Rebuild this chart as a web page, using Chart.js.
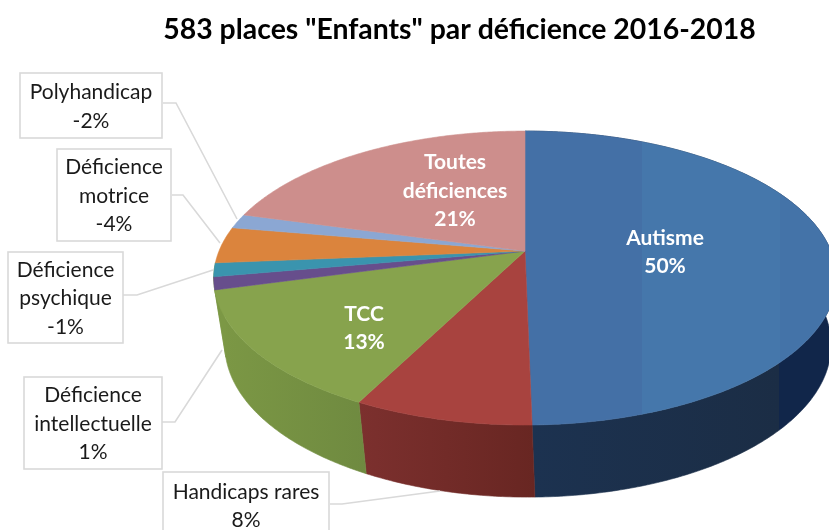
<!DOCTYPE html>
<html>
<head>
<meta charset="utf-8">
<script src="https://cdn.jsdelivr.net/npm/chart.js@4/dist/chart.umd.min.js"></script>
<style>
  html, body { margin: 0; padding: 0; background: #fff; }
  canvas { display: block; }
</style>
</head>
<body>
<canvas id="chart1" width="829" height="530"></canvas>
<script>
var titleText = '583 places "Enfants" par déficience 2016-2018';
var categories = ['Autisme', 'Handicaps rares', 'TCC', 'Déficience intellectuelle', 'Déficience psychique', 'Déficience motrice', 'Polyhandicap', 'Toutes déficiences'];
var shares = [49.7, 7.8, 13.3, 1.4, 1.5, 4.0, 1.6, 20.7];
var shareLabels = ['50%', '8%', '13%', '1%', '-1%', '-4%', '-2%', '21%'];

// how each category name wraps in its label
var labelLines = [['Autisme'], ['Handicaps rares'], ['TCC'], ['Déficience', 'intellectuelle'], ['Déficience', 'psychique'], ['Déficience', 'motrice'], ['Polyhandicap'], ['Toutes', 'déficiences']];

var topColors = ['#4472a8', '#a8433f', '#87a34d', '#674e8c', '#3a94ae', '#db843d', '#8ba7d3', '#cd8e8c'];
// the small slices sit on the silhouette and the back slices have no visible wall
var sideColors = [['#1c3250', '#1b2d45'], ['#7c302e', '#682622'], ['#7c9845', '#6f8a40'], ['#7c9845', '#7c9845'], ['#7c9845', '#7c9845'], null, null, null];

// label boxes: x, y, w, h (null = white text sitting on the pie, x,y is its centre)
var labelBoxes = [null, [163, 472, 166, 66], null, [24, 377, 138, 92], [8, 252, 115, 91], [57, 149, 114, 92], [20, 73, 142, 65], null];
var innerSpots = [[665, 251], null, [364, 327], null, null, null, null, [455, 190]];
var leaders = [null, [[330, 504], [342, 504], [440, 491]], null, [[162, 422], [175, 422], [222, 350]], [[123, 295], [137, 295], [213, 270]], [[172, 195], [183, 195], [220, 243]], [[163, 103], [176, 103], [237, 219]], null];

// the tilted disc, in px: half axes of the top face and of the base
var persp = 0.1837;
var topFace = { dx: 0, dy: 0, rx: 306, ry: 142 };
var baseFace = { dx: 3, dy: 66, rx: 298, ry: 147 };

function project(arc, a, face) {
  var w = 1 - persp * Math.sin(a);
  return {
    x: arc.x + face.dx + face.rx * Math.cos(a) / w,
    y: arc.y + face.dy + face.ry * Math.sin(a) / w
  };
}

function rimPoints(arc, face, reverse) {
  var pts = [];
  var steps = Math.max(2, Math.ceil((arc.endAngle - arc.startAngle) / 0.01));
  for (var i = 0; i <= steps; i++) {
    var t = reverse ? steps - i : i;
    pts.push(project(arc, arc.startAngle + (arc.endAngle - arc.startAngle) * t / steps, face));
  }
  return pts;
}

function fillPath(ctx, pts, color) {
  ctx.beginPath();
  pts.forEach((p, i) => {
    if (i == 0) ctx.moveTo(p.x, p.y); else ctx.lineTo(p.x, p.y);
  });
  ctx.closePath();
  ctx.fillStyle = color;
  ctx.strokeStyle = color;
  ctx.lineWidth = 0.6;
  ctx.fill();
  ctx.stroke();
}

var pie3d = {
  id: 'pie3d',
  afterLayout: function (chart) {
    // the title is centred over the slide, not over the pie
    chart.titleBlock.left = 90;
    chart.titleBlock.right = 829;
  },
  beforeDatasetsDraw: function (chart) {
    var ctx = chart.ctx;
    var arcs = chart.getDatasetMeta(0).data;

    // walls
    arcs.forEach((arc, i) => {
      if (!sideColors[i]) return;
      var pts = rimPoints(arc, topFace, false).concat(rimPoints(arc, baseFace, true));
      var xs = pts.map(p => p.x);
      var g = ctx.createLinearGradient(Math.min.apply(null, xs), 0, Math.max.apply(null, xs), 0);
      g.addColorStop(0, sideColors[i][0]);
      g.addColorStop(1, sideColors[i][1]);
      if (i == 0) {
        g = ctx.createLinearGradient(533, 0, 829, 0);
        g.addColorStop(0, '#1c3250');
        g.addColorStop(0.83, '#1b2d45');
        g.addColorStop(0.83, '#11264a');
        g.addColorStop(1, '#11264a');
      }
      fillPath(ctx, pts, g);
    });

    // top face
    arcs.forEach((arc, i) => {
      var c = topColors[i];
      if (i == 0) {
        c = ctx.createLinearGradient(525, 0, 829, 0);
        c.addColorStop(0, '#4470a6');
        c.addColorStop(0.385, '#4470a6');
        c.addColorStop(0.385, '#4577ab');
        c.addColorStop(0.84, '#4577ab');
        c.addColorStop(0.84, '#4473a8');
        c.addColorStop(1, '#4473a8');
      }
      var pts = rimPoints(arc, topFace, false);
      pts.push({ x: arc.x, y: arc.y });
      fillPath(ctx, pts, c);
    });
    return false;
  },
  afterDraw: function (chart) {
    var ctx = chart.ctx;
    ctx.save();
    ctx.textAlign = 'center';
    ctx.textBaseline = 'middle';

    categories.forEach((name, i) => {
      var lines = labelLines[i].concat(shareLabels[i]);
      var box = labelBoxes[i];
      var cx, cy;
      if (box) {
        ctx.strokeStyle = '#d9d9d9';
        ctx.lineWidth = 1.6;
        ctx.beginPath();
        leaders[i].forEach((p, j) => {
          if (j == 0) ctx.moveTo(p[0], p[1]); else ctx.lineTo(p[0], p[1]);
        });
        ctx.stroke();
        ctx.fillStyle = '#fff';
        ctx.fillRect(box[0], box[1], box[2], box[3]);
        ctx.strokeRect(box[0], box[1], box[2], box[3]);
        cx = box[0] + box[2] / 2;
        cy = box[1] + box[3] / 2;
        ctx.fillStyle = '#1a1a1a';
        ctx.font = '21px Lato';
      } else {
        cx = innerSpots[i][0];
        cy = innerSpots[i][1];
        ctx.fillStyle = '#fff';
        ctx.font = 'bold 21px Lato';
      }
      lines.forEach((line, j) => {
        ctx.fillText(line, cx, cy + 1 + (j - (lines.length - 1) / 2) * 28.5);
      });
    });
    ctx.restore();
  }
};

var ctx = document.getElementById('chart1').getContext('2d');
var chart = new Chart(ctx, {
  type: 'pie',
  data: {
    labels: categories,
    datasets: [{
      data: shares,
      backgroundColor: topColors,
      borderWidth: 0
    }]
  },
  options: {
    responsive: false,
    animation: false,
    layout: { padding: { left: 221, bottom: 78 } },
    plugins: {
      legend: { display: false },
      tooltip: { enabled: false },
      title: {
        display: true,
        text: titleText,
        color: '#000',
        font: { family: 'Lato', size: 28.4, weight: 'bold' },
        padding: { top: 13, bottom: 3 }
      }
    }
  },
  plugins: [pie3d]
});
</script>
</body>
</html>
